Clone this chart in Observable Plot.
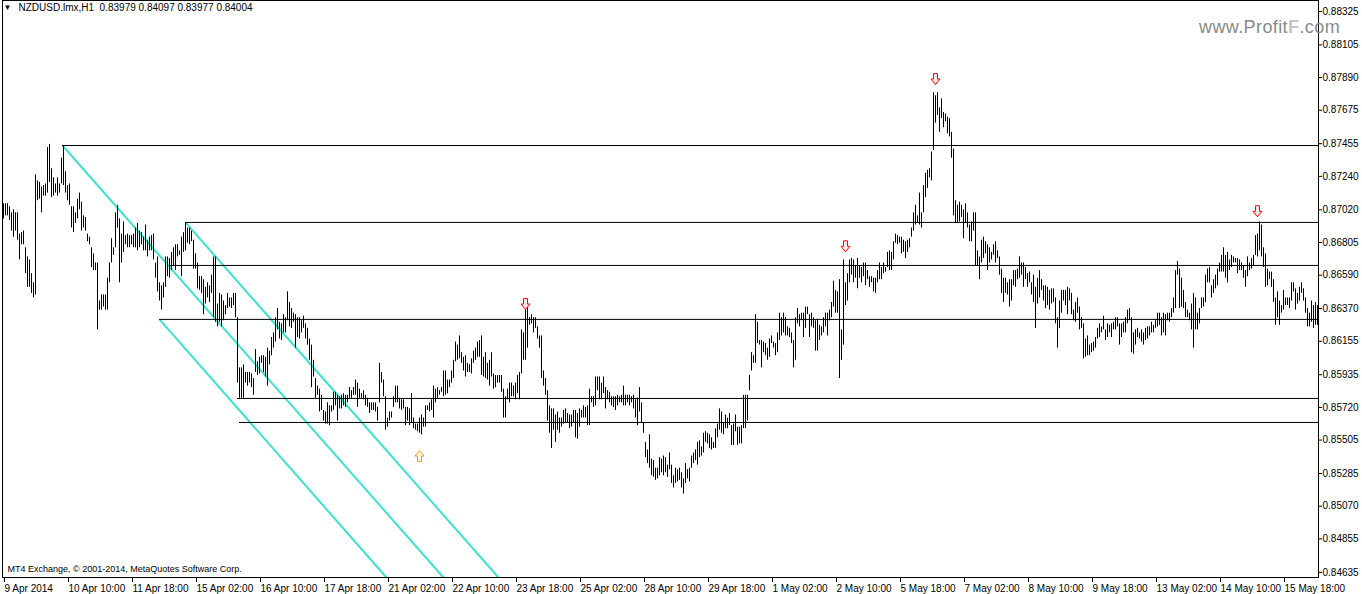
<!DOCTYPE html>
<html><head><meta charset="utf-8">
<script src="https://cdn.jsdelivr.net/npm/d3@7"></script>
<script src="https://cdn.jsdelivr.net/npm/@observablehq/plot@0.6"></script>
<style>
body{margin:0;background:#fff;}
#wrap{position:relative;width:1362px;height:594px;overflow:hidden;}
#wm{position:absolute;left:1199px;top:16.5px;font:18px "Liberation Sans",Arial,sans-serif;line-height:normal;color:#8a8a8a;white-space:nowrap;letter-spacing:0.4px}
#wm b{color:#c4c4c4;font-weight:bold}
</style></head><body><div id="wrap"><div id="wm">www.Profit<b>F</b>.com</div></div>
<script>
// NZDUSD H1 bars (one per hour), highs and lows
const high = [
0.8706,0.8706,0.8706,0.8704,0.8700,0.8702,0.8700,0.8700,0.8686,0.8687,
0.8688,0.8677,0.8671,0.8669,0.8660,0.8654,0.8725,0.8721,0.8720,0.8717,
0.8718,0.8719,0.8743,0.8745,0.8729,0.8723,0.8719,0.8723,0.8719,0.8736,
0.8744,0.8727,0.8718,0.8719,0.8704,0.8704,0.8700,0.8709,0.8713,0.8707,
0.8698,0.8697,0.8686,0.8684,0.8677,0.8673,0.8667,0.8667,0.8642,0.8646,
0.8646,0.8646,0.8657,0.8667,0.8683,0.8677,0.8700,0.8705,0.8696,0.8686,
0.8694,0.8685,0.8686,0.8685,0.8685,0.8686,0.8690,0.8693,0.8688,0.8687,
0.8684,0.8692,0.8682,0.8684,0.8685,0.8686,0.8667,0.8671,0.8654,0.8652,
0.8654,0.8671,0.8671,0.8670,0.8674,0.8677,0.8679,0.8679,0.8675,0.8684,
0.8687,0.8693,0.8690,0.8690,0.8688,0.8682,0.8673,0.8667,0.8658,0.8658,
0.8656,0.8651,0.8654,0.8652,0.8659,0.8671,0.8671,0.8640,0.8647,0.8646,
0.8642,0.8639,0.8647,0.8644,0.8644,0.8647,0.8647,0.8631,0.8598,0.8598,
0.8600,0.8595,0.8595,0.8595,0.8594,0.8591,0.8610,0.8602,0.8605,0.8606,
0.8606,0.8605,0.8611,0.8609,0.8618,0.8621,0.8631,0.8637,0.8628,0.8627,
0.8633,0.8631,0.8648,0.8641,0.8637,0.8634,0.8633,0.8631,0.8631,0.8629,
0.8632,0.8627,0.8624,0.8617,0.8613,0.8603,0.8591,0.8586,0.8584,0.8580,
0.8570,0.8569,0.8575,0.8573,0.8573,0.8582,0.8582,0.8580,0.8579,0.8580,
0.8581,0.8580,0.8580,0.8585,0.8583,0.8585,0.8590,0.8588,0.8584,0.8581,
0.8583,0.8580,0.8578,0.8575,0.8575,0.8575,0.8575,0.8572,0.8601,0.8595,
0.8590,0.8579,0.8565,0.8569,0.8569,0.8579,0.8586,0.8586,0.8578,0.8577,
0.8577,0.8572,0.8572,0.8571,0.8581,0.8565,0.8561,0.8561,0.8565,0.8567,
0.8565,0.8573,0.8573,0.8575,0.8577,0.8586,0.8584,0.8585,0.8583,0.8585,
0.8596,0.8596,0.8590,0.8590,0.8596,0.8603,0.8615,0.8613,0.8619,0.8608,
0.8605,0.8606,0.8601,0.8600,0.8604,0.8609,0.8611,0.8615,0.8616,0.8619,
0.8605,0.8608,0.8601,0.8603,0.8608,0.8594,0.8593,0.8593,0.8593,0.8593,
0.8584,0.8579,0.8584,0.8588,0.8588,0.8586,0.8588,0.8593,0.8595,0.8623,
0.8621,0.8636,0.8638,0.8631,0.8633,0.8631,0.8631,0.8625,0.8619,0.8619,
0.8596,0.8591,0.8583,0.8573,0.8571,0.8571,0.8567,0.8569,0.8565,0.8565,
0.8570,0.8571,0.8568,0.8567,0.8567,0.8570,0.8570,0.8568,0.8571,0.8570,
0.8573,0.8572,0.8573,0.8584,0.8579,0.8579,0.8592,0.8592,0.8592,0.8588,
0.8592,0.8585,0.8583,0.8582,0.8579,0.8579,0.8579,0.8580,0.8579,0.8580,
0.8586,0.8580,0.8580,0.8580,0.8579,0.8580,0.8577,0.8578,0.8585,0.8575,
0.8562,0.8549,0.8544,0.8554,0.8538,0.8537,0.8532,0.8532,0.8539,0.8538,
0.8540,0.8539,0.8534,0.8542,0.8534,0.8527,0.8532,0.8531,0.8532,0.8529,
0.8525,0.8535,0.8531,0.8532,0.8540,0.8542,0.8544,0.8549,0.8550,0.8546,
0.8555,0.8556,0.8555,0.8554,0.8552,0.8549,0.8558,0.8561,0.8571,0.8569,
0.8562,0.8567,0.8565,0.8568,0.8560,0.8561,0.8567,0.8559,0.8559,0.8560,
0.8580,0.8580,0.8580,0.8593,0.8608,0.8606,0.8633,0.8628,0.8616,0.8616,
0.8615,0.8614,0.8611,0.8617,0.8619,0.8615,0.8614,0.8621,0.8634,0.8631,
0.8634,0.8631,0.8625,0.8624,0.8621,0.8616,0.8631,0.8637,0.8633,0.8634,
0.8634,0.8638,0.8638,0.8633,0.8634,0.8631,0.8629,0.8630,0.8626,0.8625,
0.8631,0.8634,0.8634,0.8636,0.8641,0.8655,0.8649,0.8648,0.8656,0.8623,
0.8669,0.8654,0.8660,0.8669,0.8670,0.8669,0.8665,0.8670,0.8665,0.8664,
0.8667,0.8667,0.8662,0.8658,0.8658,0.8657,0.8657,0.8662,0.8667,0.8664,
0.8667,0.8664,0.8674,0.8675,0.8674,0.8681,0.8686,0.8685,0.8684,0.8684,
0.8682,0.8681,0.8682,0.8683,0.8690,0.8700,0.8705,0.8698,0.8713,0.8700,
0.8718,0.8726,0.8728,0.8729,0.8740,0.8779,0.8777,0.8779,0.8769,0.8775,
0.8766,0.8765,0.8763,0.8762,0.8753,0.8742,0.8708,0.8705,0.8707,0.8705,
0.8702,0.8706,0.8700,0.8692,0.8694,0.8700,0.8700,0.8675,0.8671,0.8682,
0.8684,0.8681,0.8679,0.8677,0.8674,0.8679,0.8681,0.8675,0.8671,0.8663,
0.8657,0.8657,0.8654,0.8656,0.8656,0.8662,0.8662,0.8663,0.8671,0.8667,
0.8667,0.8664,0.8660,0.8661,0.8654,0.8659,0.8651,0.8657,0.8662,0.8656,
0.8652,0.8652,0.8651,0.8649,0.8650,0.8650,0.8644,0.8631,0.8642,0.8649,
0.8649,0.8649,0.8651,0.8650,0.8647,0.8636,0.8641,0.8644,0.8638,0.8631,
0.8627,0.8617,0.8619,0.8613,0.8614,0.8615,0.8618,0.8624,0.8627,0.8625,
0.8632,0.8623,0.8627,0.8626,0.8627,0.8628,0.8631,0.8631,0.8627,0.8627,
0.8628,0.8631,0.8636,0.8637,0.8631,0.8621,0.8623,0.8624,0.8621,0.8623,
0.8621,0.8624,0.8625,0.8625,0.8628,0.8626,0.8629,0.8634,0.8634,0.8631,
0.8634,0.8633,0.8634,0.8634,0.8637,0.8644,0.8662,0.8668,0.8663,0.8657,
0.8649,0.8641,0.8636,0.8634,0.8640,0.8647,0.8644,0.8634,0.8637,0.8644,
0.8644,0.8659,0.8663,0.8664,0.8652,0.8656,0.8659,0.8663,0.8667,0.8672,
0.8677,0.8672,0.8674,0.8669,0.8672,0.8671,0.8670,0.8670,0.8669,0.8667,
0.8665,0.8662,0.8671,0.8667,0.8670,0.8672,0.8685,0.8686,0.8694,0.8692,
0.8677,0.8673,0.8663,0.8661,0.8661,0.8656,0.8644,0.8648,0.8642,0.8639,
0.8649,0.8644,0.8644,0.8644,0.8654,0.8654,0.8650,0.8647,0.8651,0.8654,
0.8650,0.8644,0.8637,0.8634,0.8642,0.8639,0.8641,0.8639
];
const low = [
0.8696,0.8698,0.8698,0.8695,0.8688,0.8684,0.8688,0.8682,0.8669,0.8679,
0.8679,0.8660,0.8651,0.8651,0.8647,0.8644,0.8646,0.8708,0.8709,0.8700,
0.8711,0.8711,0.8713,0.8720,0.8710,0.8711,0.8713,0.8711,0.8713,0.8719,
0.8718,0.8713,0.8708,0.8705,0.8690,0.8687,0.8693,0.8696,0.8702,0.8688,
0.8690,0.8688,0.8681,0.8679,0.8664,0.8662,0.8662,0.8623,0.8636,0.8636,
0.8638,0.8636,0.8636,0.8654,0.8667,0.8672,0.8677,0.8690,0.8654,0.8667,
0.8674,0.8679,0.8677,0.8677,0.8679,0.8677,0.8677,0.8675,0.8677,0.8679,
0.8675,0.8675,0.8671,0.8675,0.8675,0.8669,0.8657,0.8648,0.8642,0.8636,
0.8644,0.8651,0.8658,0.8657,0.8662,0.8665,0.8662,0.8671,0.8672,0.8658,
0.8674,0.8675,0.8680,0.8679,0.8681,0.8663,0.8663,0.8650,0.8649,0.8647,
0.8633,0.8640,0.8644,0.8641,0.8647,0.8631,0.8628,0.8625,0.8628,0.8625,
0.8629,0.8633,0.8637,0.8638,0.8637,0.8639,0.8631,0.8588,0.8578,0.8578,
0.8578,0.8588,0.8586,0.8588,0.8585,0.8580,0.8595,0.8593,0.8594,0.8601,
0.8595,0.8592,0.8586,0.8600,0.8606,0.8611,0.8615,0.8623,0.8617,0.8616,
0.8621,0.8621,0.8629,0.8625,0.8624,0.8628,0.8611,0.8618,0.8617,0.8621,
0.8624,0.8617,0.8613,0.8603,0.8585,0.8592,0.8578,0.8580,0.8569,0.8570,
0.8563,0.8561,0.8561,0.8560,0.8569,0.8570,0.8573,0.8563,0.8571,0.8571,
0.8573,0.8572,0.8575,0.8578,0.8578,0.8580,0.8580,0.8572,0.8578,0.8578,
0.8577,0.8573,0.8572,0.8568,0.8570,0.8570,0.8569,0.8563,0.8575,0.8588,
0.8579,0.8557,0.8559,0.8563,0.8565,0.8572,0.8575,0.8575,0.8571,0.8570,
0.8571,0.8560,0.8563,0.8560,0.8562,0.8558,0.8557,0.8556,0.8555,0.8554,
0.8559,0.8559,0.8570,0.8569,0.8570,0.8565,0.8575,0.8578,0.8580,0.8582,
0.8579,0.8580,0.8581,0.8585,0.8588,0.8591,0.8602,0.8603,0.8604,0.8601,
0.8596,0.8592,0.8595,0.8595,0.8594,0.8601,0.8603,0.8605,0.8605,0.8593,
0.8592,0.8591,0.8590,0.8586,0.8592,0.8584,0.8585,0.8588,0.8588,0.8582,
0.8565,0.8565,0.8577,0.8575,0.8579,0.8579,0.8577,0.8581,0.8577,0.8594,
0.8603,0.8603,0.8611,0.8626,0.8627,0.8621,0.8624,0.8617,0.8611,0.8591,
0.8586,0.8580,0.8563,0.8555,0.8545,0.8557,0.8549,0.8557,0.8555,0.8559,
0.8561,0.8562,0.8562,0.8558,0.8559,0.8562,0.8552,0.8551,0.8559,0.8565,
0.8565,0.8565,0.8560,0.8560,0.8575,0.8572,0.8573,0.8583,0.8577,0.8577,
0.8581,0.8571,0.8577,0.8575,0.8573,0.8572,0.8570,0.8573,0.8575,0.8575,
0.8573,0.8573,0.8575,0.8573,0.8575,0.8571,0.8565,0.8560,0.8569,0.8562,
0.8555,0.8539,0.8535,0.8532,0.8527,0.8526,0.8524,0.8525,0.8527,0.8529,
0.8527,0.8529,0.8526,0.8531,0.8522,0.8519,0.8522,0.8523,0.8524,0.8519,
0.8515,0.8522,0.8525,0.8523,0.8532,0.8535,0.8537,0.8534,0.8539,0.8540,
0.8542,0.8549,0.8548,0.8545,0.8544,0.8545,0.8545,0.8552,0.8557,0.8555,
0.8554,0.8558,0.8558,0.8560,0.8547,0.8547,0.8556,0.8547,0.8548,0.8548,
0.8558,0.8558,0.8563,0.8583,0.8596,0.8601,0.8601,0.8614,0.8613,0.8598,
0.8608,0.8606,0.8603,0.8605,0.8614,0.8611,0.8606,0.8608,0.8616,0.8619,
0.8621,0.8619,0.8619,0.8618,0.8614,0.8598,0.8603,0.8627,0.8625,0.8629,
0.8618,0.8624,0.8633,0.8618,0.8625,0.8624,0.8609,0.8609,0.8616,0.8619,
0.8621,0.8625,0.8619,0.8629,0.8631,0.8638,0.8634,0.8634,0.8591,0.8603,
0.8613,0.8639,0.8642,0.8654,0.8659,0.8654,0.8657,0.8650,0.8657,0.8654,
0.8658,0.8652,0.8656,0.8651,0.8654,0.8648,0.8647,0.8654,0.8656,0.8656,
0.8660,0.8661,0.8664,0.8662,0.8662,0.8669,0.8680,0.8679,0.8680,0.8673,
0.8674,0.8670,0.8674,0.8677,0.8684,0.8688,0.8692,0.8693,0.8692,0.8690,
0.8700,0.8710,0.8716,0.8723,0.8721,0.8741,0.8759,0.8764,0.8753,0.8762,
0.8756,0.8760,0.8752,0.8750,0.8736,0.8698,0.8693,0.8693,0.8694,0.8697,
0.8683,0.8693,0.8690,0.8681,0.8681,0.8688,0.8665,0.8665,0.8656,0.8667,
0.8670,0.8673,0.8662,0.8667,0.8669,0.8672,0.8667,0.8670,0.8659,0.8647,
0.8641,0.8647,0.8646,0.8638,0.8642,0.8652,0.8651,0.8656,0.8657,0.8659,
0.8651,0.8656,0.8651,0.8654,0.8646,0.8641,0.8624,0.8640,0.8644,0.8649,
0.8642,0.8637,0.8639,0.8636,0.8640,0.8641,0.8627,0.8611,0.8624,0.8634,
0.8642,0.8639,0.8633,0.8642,0.8633,0.8629,0.8628,0.8634,0.8623,0.8624,
0.8604,0.8605,0.8606,0.8606,0.8608,0.8609,0.8611,0.8617,0.8618,0.8621,
0.8623,0.8616,0.8618,0.8621,0.8618,0.8623,0.8623,0.8625,0.8613,0.8618,
0.8621,0.8621,0.8627,0.8629,0.8608,0.8607,0.8613,0.8618,0.8617,0.8615,
0.8613,0.8616,0.8617,0.8619,0.8621,0.8621,0.8624,0.8625,0.8626,0.8619,
0.8621,0.8619,0.8629,0.8628,0.8631,0.8634,0.8637,0.8659,0.8637,0.8638,
0.8637,0.8631,0.8631,0.8629,0.8623,0.8611,0.8623,0.8623,0.8627,0.8637,
0.8638,0.8641,0.8654,0.8654,0.8644,0.8647,0.8650,0.8652,0.8661,0.8661,
0.8661,0.8657,0.8654,0.8662,0.8664,0.8667,0.8667,0.8660,0.8662,0.8662,
0.8657,0.8651,0.8658,0.8662,0.8663,0.8665,0.8672,0.8671,0.8675,0.8671,
0.8664,0.8651,0.8652,0.8656,0.8651,0.8641,0.8626,0.8631,0.8626,0.8634,
0.8636,0.8639,0.8639,0.8637,0.8642,0.8648,0.8636,0.8640,0.8642,0.8647,
0.8642,0.8634,0.8625,0.8625,0.8628,0.8624,0.8626,0.8626
];

// time axis labels (every 32 bars)
const timeTickBars = [0,32,64,96,128,160,192,224,256,288,320,352,384,416,448,480,512,544,576,608,640];
const timeTickLabels = ["9 Apr 2014","10 Apr 10:00","11 Apr 18:00","15 Apr 02:00","16 Apr 10:00","17 Apr 18:00","21 Apr 02:00","22 Apr 10:00","23 Apr 18:00","25 Apr 02:00","28 Apr 10:00","29 Apr 18:00","1 May 02:00","2 May 10:00","5 May 18:00","7 May 02:00","8 May 10:00","9 May 18:00","13 May 02:00","14 May 10:00","15 May 18:00"];
// price axis labels
const priceTicks = [0.88325,0.88105,0.87890,0.87675,0.87455,0.87240,0.87020,0.86805,0.86590,0.86370,0.86155,0.85935,0.85720,0.85505,0.85285,0.85070,0.84855,0.84635];

// horizontal levels (price, starting bar)
const levelPrices = [0.87443,0.86937,0.86654,0.86299,0.85779,0.85621];
const levelStartBars = [29.5,91,83,78,117,118];

// turquoise channel lines (start bar/price -> end bar/price)
const chanStartBars = [29.5,78,91];
const chanStartPrices = [0.87443,0.86299,0.86937];
const chanEndBars = [220,191.5,247.5];
const chanEndPrices = [0.84601,0.84601,0.84601];

// fractal arrows
const downArrowBars = [261,421,466,627];
const downArrowPrices = [0.8640,0.8678,0.8788,0.8701];
const upArrowBars = [208];
const upArrowPrices = [0.8540];

const headerText = "NZDUSD.lmx,H1  0.83979 0.84097 0.83977 0.84004";
const captionText = "MT4 Exchange, \u00a9 2001-2014, MetaQuotes Software Corp.";

const lastBar = 657.5;
const bars = high.map((h, i) => ({i, high: h, low: low[i]}));
const levels = levelPrices.map((p, k) => ({price: p, from: levelStartBars[k]}));
const chans = chanStartBars.map((b, k) => ({x1: b, y1: chanStartPrices[k], x2: chanEndBars[k], y2: chanEndPrices[k]}));
const downs = downArrowBars.map((b, k) => ({bar: b, price: downArrowPrices[k]}));
const ups = upArrowBars.map((b, k) => ({bar: b, price: upArrowPrices[k]}));

// hollow arrow symbols (size = area; r = sqrt(size/pi))
function arrowSymbol(dir) {
  return {
    draw(ctx, size) {
      const r = Math.sqrt(size / Math.PI);
      const s = r / 5.5; // r=5.5 -> 11px tall
      const pts = [[-2, -5.5], [2, -5.5], [2, 0], [4.5, 0], [0, 5.5], [-4.5, 0], [-2, 0]];
      pts.forEach(([x, y], k) => {
        const px = x * s, py = dir * y * s;
        if (k === 0) ctx.moveTo(px, py); else ctx.lineTo(px, py);
      });
      ctx.closePath();
    }
  };
}

const chart = Plot.plot({
  width: 1362, height: 594,
  marginLeft: 2, marginRight: 44, marginTop: 0, marginBottom: 17,
  x: {domain: [-0.5, lastBar], axis: null},
  y: {domain: [0.84601, 0.88397], axis: null},
  style: {fontFamily: "'Liberation Sans', Arial, sans-serif", fontSize: "10px", background: "#fff", color: "#000"},
  marks: [
    Plot.link(chans, {x1: "x1", y1: "y1", x2: "x2", y2: "y2", stroke: "#40E0D0", strokeWidth: 2}),
    Plot.ruleY(levels, {y: "price", x1: "from", x2: lastBar, stroke: "#000", strokeWidth: 1}),
    Plot.ruleX(bars, {x: "i", y1: "low", y2: "high", stroke: "#000", strokeWidth: 1}),
    Plot.dot(downs, {x: "bar", y: "price", r: 5.5, symbol: arrowSymbol(1), fill: "#ffe6ee", stroke: "#ff0000", strokeWidth: 1}),
    Plot.dot(ups, {x: "bar", y: "price", r: 5.5, symbol: arrowSymbol(-1), fill: "#fff4e0", stroke: "#f39a1e", strokeWidth: 1}),
    Plot.frame({stroke: "#000"}),
    Plot.axisX({anchor: "bottom", ticks: timeTickBars, tickFormat: (d) => timeTickLabels[timeTickBars.indexOf(d)], tickSize: 5, tickPadding: 2, textAnchor: "start", dx: 1, fontSize: 10}),
    Plot.axisY({anchor: "right", ticks: priceTicks, tickFormat: (d) => d.toFixed(5), tickSize: 3, tickPadding: 1, fontSize: 10}),
    Plot.text([headerText], {frameAnchor: "top-left", dx: 16, dy: 3, lineAnchor: "top", text: (d) => d, fontSize: 10, fill: "#000"}),
    Plot.text(["\u25bc"], {frameAnchor: "top-left", dx: 1, dy: 4, lineAnchor: "top", text: (d) => d, fontSize: 8, fill: "#000"}),
    Plot.text([captionText], {frameAnchor: "bottom-left", dx: 5, dy: -6, lineAnchor: "bottom", text: (d) => d, fontSize: 9, fill: "#000"})
  ]
});
document.getElementById("wrap").prepend(chart);
</script></body></html>
